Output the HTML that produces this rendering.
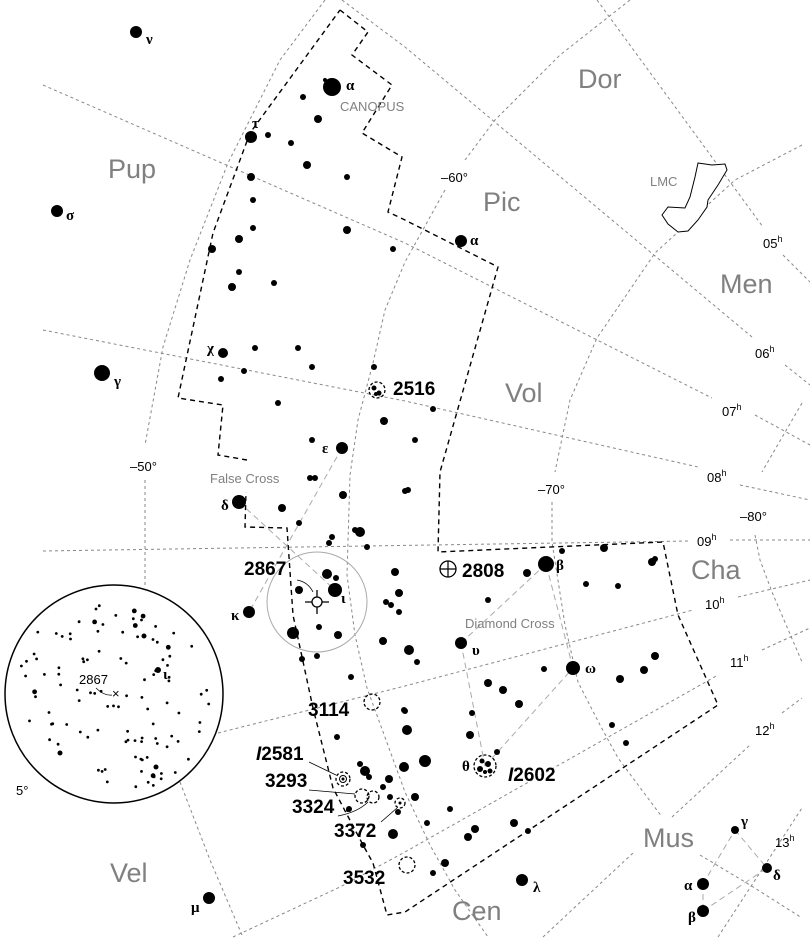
<!DOCTYPE html>
<html><head><meta charset="utf-8"><style>
html,body{margin:0;padding:0;background:#fff}
svg{display:block}
.g{fill:none;stroke:#888;stroke-width:1;stroke-dasharray:3,3}
.b{fill:none;stroke:#000;stroke-width:1.4;stroke-dasharray:5,4}
.c{font-family:"Liberation Sans",sans-serif;fill:#808080;font-size:27px}
.l{font-family:"Liberation Sans",sans-serif;fill:#000;font-size:13px}
.n{font-family:"Liberation Sans",sans-serif;fill:#000;font-size:19px;font-weight:bold}
.gr{font-family:"Liberation Serif",serif;fill:#000;font-size:15px;font-weight:bold}
.gl{font-family:"Liberation Sans",sans-serif;fill:#808080;font-size:13px}
.cl{fill:none;stroke:#000;stroke-width:1.3;stroke-dasharray:3,2}
.dc{fill:none;stroke:#aaa;stroke-width:1;stroke-dasharray:6,4}
</style></head><body>
<svg id="s" width="810" height="950" viewBox="0 0 810 950" xmlns="http://www.w3.org/2000/svg">
<polyline class="g" points="325,0 280,60 228,163 190,260 163,347 145,445"/>
<polyline class="g" points="145,480 145,585"/>
<polyline class="g" points="180,782 210,860 242,935"/>
<polyline class="g" points="630,0 560,55 495,120 465,160"/>
<polyline class="g" points="445,190 405,262 385,310 373,363 358,420 350,475 347,575 355,635 367,688 405,792 430,845 455,890 488,937"/>
<polyline class="g" points="802,145 735,180 655,253 597,338 570,400 555,472"/>
<polyline class="g" points="552,502 552,542 565,625 578,682 600,725 618,758 662,817"/>
<polyline class="g" points="700,855 750,885 802,918"/>
<polyline class="g" points="802,403 762,472"/>
<polyline class="g" points="755,535 760,560 772,592 802,662"/>
<polyline class="g" points="597,0 763,227"/>
<polyline class="g" points="783,255 810,282"/>
<polyline class="g" points="342,0 405,47 752,337"/>
<polyline class="g" points="785,365 810,385"/>
<polyline class="g" points="43,85 405,243 712,398"/>
<polyline class="g" points="755,415 810,445"/>
<polyline class="g" points="43,330 405,401 698,467"/>
<polyline class="g" points="740,485 810,500"/>
<polyline class="g" points="43,551 690,541"/>
<polyline class="g" points="730,540 810,540"/>
<polyline class="g" points="218,733 405,686 693,610"/>
<polyline class="g" points="738,597 810,580"/>
<polyline class="g" points="233,937 340,887 405,852 718,675"/>
<polyline class="g" points="762,650 810,628"/>
<polyline class="g" points="543,937 633,853"/>
<polyline class="g" points="672,817 750,745"/>
<polyline class="g" points="782,713 802,698"/>
<polyline class="g" points="718,937 802,808"/>
<polyline class="b" points="340,10 368,32 352,55 392,85 362,133 402,157 388,212 405,220 498,267 440,472 438,552 663,542 678,615 718,705 405,912 387,915 373,863 363,845 333,788 313,708 293,615 287,528 245,527 246,492"/>
<polyline class="b" points="247,460 218,455 223,405 178,398 213,233 250,133 340,10"/>
<g class="dc">
<line x1="342" y1="448" x2="249" y2="612"/><line x1="239" y1="502" x2="335" y2="590"/>
<line x1="546" y1="564" x2="461" y2="643"/><line x1="461" y1="643" x2="485" y2="766"/>
<line x1="485" y1="766" x2="573" y2="668"/><line x1="573" y1="668" x2="546" y2="564"/>
<line x1="703" y1="884" x2="735" y2="830"/><line x1="703" y1="884" x2="703" y2="911"/>
<line x1="703" y1="911" x2="767" y2="868"/><line x1="735" y1="830" x2="767" y2="868"/>
</g>
<path d="M698,163 L712,165 L725,164 L727,170 L718,185 L708,200 L707,207 L698,220 L688,231 L678,232 L668,224 L662,215 L668,207 L685,208 L690,197 L693,185 L695,177 Z" fill="#fff" stroke="#000" stroke-width="1"/>
<circle cx="317" cy="602" r="50" fill="none" stroke="#aaa" stroke-width="1"/>
<circle cx="317" cy="602" r="5" fill="#fff" stroke="#000" stroke-width="1.3"/>
<path d="M305,602h7M322,602h7M317,590v7M317,607v7" stroke="#000" stroke-width="1.3"/>
<path d="M297,580 Q308,582 313,592" fill="none" stroke="#000" stroke-width="0.8"/>
<circle cx="114" cy="694" r="109" fill="#fff" stroke="#000" stroke-width="1.5"/>
<g id="inset"></g>
<g id="stars" fill="#000"></g>
<circle class="cl" cx="377" cy="390" r="8"/>
<circle cx="374" cy="388" r="2.5"/><circle cx="379" cy="393" r="2.5"/><circle cx="376" cy="394" r="2"/>
<circle class="cl" cx="372" cy="702" r="8"/>
<circle class="cl" cx="343" cy="779" r="7"/><circle cx="343" cy="779" r="3.5" fill="none" stroke="#000"/><circle cx="343" cy="779" r="1.5"/>
<circle class="cl" cx="362" cy="796" r="7"/><circle class="cl" cx="373" cy="797" r="6"/>
<circle class="cl" cx="400" cy="803" r="5"/><circle cx="400" cy="803" r="1.5"/>
<circle class="cl" cx="407" cy="865" r="8"/>
<circle class="cl" cx="485" cy="766" r="11"/>
<circle cx="482" cy="761" r="2.5"/><circle cx="488" cy="764" r="3"/><circle cx="480" cy="769" r="3"/><circle cx="490" cy="771" r="2.5"/><circle cx="485" cy="772" r="2"/>
<circle cx="448" cy="569" r="8" fill="none" stroke="#000" stroke-width="1.3"/>
<path d="M440,569h16M448,561v16" stroke="#000" stroke-width="1.2"/>
<g stroke="#000" stroke-width="0.8" fill="none">
<path d="M309,762 L336,775"/><path d="M309,790 L355,794"/><path d="M338,816 Q358,812 368,802"/><path d="M381,822 L397,808"/>
</g>
<text class="c" x="108" y="178">Pup</text>
<text class="c" x="578" y="88">Dor</text>
<text class="c" x="483" y="211">Pic</text>
<text class="c" x="720" y="293">Men</text>
<text class="c" x="505" y="402">Vol</text>
<text class="c" x="691" y="579">Cha</text>
<text class="c" x="110" y="882">Vel</text>
<text class="c" x="452" y="920">Cen</text>
<text class="c" x="643" y="847">Mus</text>
<text class="gl" x="340" y="111" font-size="12">CANOPUS</text>
<text class="gl" x="650" y="186" font-size="12">LMC</text>
<text class="gl" x="210" y="483">False Cross</text>
<text class="gl" x="465" y="628">Diamond Cross</text>
<text class="l" x="130" y="471">–50°</text>
<text class="l" x="441" y="182">–60°</text>
<text class="l" x="538" y="494">–70°</text>
<text class="l" x="740" y="521">–80°</text>
<text class="l" x="763" y="248">05<tspan font-size="9" dy="-6">h</tspan></text>
<text class="l" x="755" y="358">06<tspan font-size="9" dy="-6">h</tspan></text>
<text class="l" x="722" y="416">07<tspan font-size="9" dy="-6">h</tspan></text>
<text class="l" x="707" y="482">08<tspan font-size="9" dy="-6">h</tspan></text>
<text class="l" x="697" y="546">09<tspan font-size="9" dy="-6">h</tspan></text>
<text class="l" x="705" y="609">10<tspan font-size="9" dy="-6">h</tspan></text>
<text class="l" x="730" y="667">11<tspan font-size="9" dy="-6">h</tspan></text>
<text class="l" x="755" y="735">12<tspan font-size="9" dy="-6">h</tspan></text>
<text class="l" x="775" y="847">13<tspan font-size="9" dy="-6">h</tspan></text>
<text class="l" x="16" y="795" font-size="14">5°</text>
<text class="l" x="79" y="684" font-size="14">2867</text>
<path d="M96,688 Q104,696 112,695" fill="none" stroke="#000" stroke-width="0.7"/>
<text class="l" x="112" y="698" font-size="8">×</text>
<text class="gr" x="163" y="679">ι</text>
<text class="n" x="393" y="395">2516</text>
<text class="n" x="244" y="575">2867</text>
<text class="n" x="462" y="577">2808</text>
<text class="n" x="308" y="716">3114</text>
<text class="n" x="256" y="760"><tspan font-style="italic">I</tspan>2581</text>
<text class="n" x="265" y="787">3293</text>
<text class="n" x="292" y="813">3324</text>
<text class="n" x="334" y="837">3372</text>
<text class="n" x="343" y="884">3532</text>
<text class="n" x="508" y="781"><tspan font-style="italic">I</tspan>2602</text>
<g class="gr">
<text x="146" y="44">ν</text><text x="346" y="90">α</text><text x="252" y="128">τ</text>
<text x="66" y="220">σ</text><text x="114" y="386">γ</text><text x="207" y="353">χ</text>
<text x="470" y="245">α</text><text x="322" y="453">ε</text><text x="221" y="510">δ</text>
<text x="341" y="603">ι</text><text x="231" y="620">κ</text><text x="556" y="570">β</text>
<text x="472" y="655">υ</text><text x="585" y="673">ω</text><text x="462" y="771">θ</text>
<text x="533" y="892">λ</text><text x="191" y="912">μ</text>
<text x="741" y="826">γ</text><text x="773" y="880">δ</text><text x="684" y="890">α</text><text x="688" y="922">β</text>
</g>
</svg>
<script>
var S=[[136,32,6],[332,87,9],[325,80,2],[303,97,3],[318,119,4],[251,137,6],[268,135,3],[291,143,3],[307,165,4],[347,177,3],[251,177,4],[253,200,3],[253,228,3],[239,239,4],[212,249,4],[347,230,4],[393,249,3],[239,272,3],[232,287,4],[274,283,3],[57,211,6],[102,373,8],[223,353,5],[255,348,3],[298,348,3],[312,367,3],[244,371,3],[221,379,3],[374,367,3],[278,403,3],[384,421,4],[312,440,3],[342,448,6],[461,241,6],[433,409,3],[415,440,3],[408,490,3],[310,478,3],[315,478,3],[343,495,4],[282,508,4],[239,502,7],[299,523,3],[360,532,5],[355,530,3],[332,537,3],[329,543,3],[367,547,3],[395,572,4],[327,574,5],[336,578,3],[335,590,7],[299,590,4],[249,612,6],[399,593,4],[386,602,3],[391,605,3],[399,612,3],[293,633,6],[319,627,3],[338,635,4],[383,641,4],[302,659,3],[317,656,3],[351,677,3],[337,737,3],[404,710,3],[404,767,5],[365,771,5],[360,764,3],[369,777,3],[349,809,3],[389,779,4],[383,787,3],[390,797,3],[398,812,3],[393,834,5],[363,845,3],[348,810,2],[209,898,6],[405,491,3],[546,564,8],[562,551,3],[604,548,4],[652,562,4],[655,559,3],[527,573,4],[488,600,3],[586,584,3],[618,586,3],[461,643,6],[409,650,5],[417,662,3],[573,668,7],[544,669,3],[620,679,4],[644,670,4],[655,656,4],[488,683,4],[503,690,4],[519,704,4],[472,713,3],[405,711,3],[470,735,4],[407,730,5],[612,725,3],[626,743,3],[497,752,3],[425,761,6],[415,797,4],[450,809,3],[427,823,3],[475,829,4],[468,837,4],[514,823,4],[528,831,3],[445,863,4],[433,873,3],[522,880,6],[735,830,4],[767,868,5],[703,884,6],[703,911,6]];
var ns="http://www.w3.org/2000/svg",g=document.getElementById("stars");
S.forEach(function(s){var c=document.createElementNS(ns,"circle");c.setAttribute("cx",s[0]);c.setAttribute("cy",s[1]);c.setAttribute("r",s[2]);g.appendChild(c);});
var I=document.getElementById("inset"),seed=7;function r(){seed=(seed*16807)%2147483647;return seed/2147483647;}
for(var i=0;i<170;i++){var x=114+(r()*2-1)*104,y=694+(r()*2-1)*104;if((x-114)*(x-114)+(y-694)*(y-694)>100*100)continue;if(Math.abs(x-100)<22&&Math.abs(y-680)<10)continue;var c=document.createElementNS(ns,"circle");c.setAttribute("cx",x.toFixed(1));c.setAttribute("cy",y.toFixed(1));c.setAttribute("r",r()<0.1?2.4:1.4);I.appendChild(c);}
[[158,670,3],[144,636,2.5],[60,753,2.5],[156,767,2.5]].forEach(function(s){var c=document.createElementNS(ns,"circle");c.setAttribute("cx",s[0]);c.setAttribute("cy",s[1]);c.setAttribute("r",s[2]);I.appendChild(c);});
</script>
</body></html>
